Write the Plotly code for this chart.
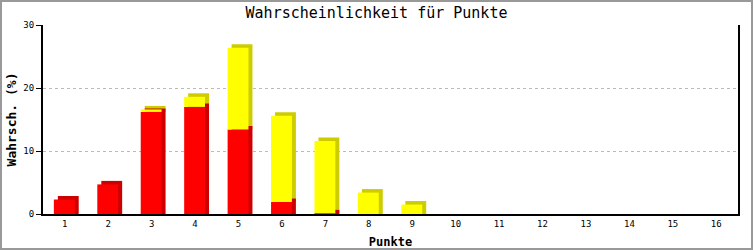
import plotly.graph_objects as go

categories = [str(i) for i in range(1, 17)]
red_values = [2.3, 4.7, 16.2, 17.0, 13.4, 1.9, 0.1, 0, 0, 0, 0, 0, 0, 0, 0, 0]
yellow_values = [0, 0, 0.4, 1.6, 13.0, 13.7, 11.5, 3.4, 1.5, 0, 0, 0, 0, 0, 0, 0]
y_ticks = [0, 10, 20, 30]

W, H = 753, 250
L, R, T, B = 43, 15, 25, 36
pw, ph = W - L - R, H - T - B
ymax = 30
dx = 4 / (pw / len(categories))   # 3D depth in category units
dy = 3.5 / (ph / ymax)             # 3D depth in value units
bw = 0.48
off = -0.25

xs = list(range(len(categories)))
red_base = [0] * len(xs)
fig = go.Figure()

def shadow(vals, bases, dark):
    sv = [v + dy if v > 0 else None for v in vals]
    fig.add_bar(x=xs, y=sv, base=bases, width=bw, offset=off + dx,
                marker=dict(color=dark, line=dict(width=0)), hoverinfo="skip", showlegend=False)

def front(vals, bases, color):
    sv = [v if v > 0 else None for v in vals]
    fig.add_bar(x=xs, y=sv, base=bases, width=bw, offset=off,
                marker=dict(color=color, line=dict(width=0)), showlegend=False)

shadow(yellow_values, red_values, "#CCCC00")
shadow(red_values, red_base, "#CC0000")
front(red_values, red_base, "#FF0000")
front(yellow_values, red_values, "#FFFF00")

fig.update_layout(
    width=W, height=H, barmode="overlay",
    margin=dict(l=L, r=R, t=T, b=B, pad=0),
    paper_bgcolor="white", plot_bgcolor="white",
    font=dict(family="DejaVu Sans Mono", color="black", size=9),
    title=dict(text="Wahrscheinlichkeit für Punkte", x=0.5, xanchor="center",
               y=1 - 13 / H, yanchor="middle",
               font=dict(family="DejaVu Sans Mono", size=15, color="black")),
    xaxis=dict(range=[-0.5, len(categories) - 0.5], tickmode="array", tickvals=xs,
               ticktext=categories, showgrid=False, zeroline=False, automargin=False,
               showline=True, linecolor="black", linewidth=2, ticks="",
               tickfont=dict(size=9),
               title=dict(text="<b>Punkte</b>", standoff=10, font=dict(size=12))),
    yaxis=dict(range=[0, ymax], tickvals=y_ticks, showgrid=True, gridcolor="#BBBBBB",
               griddash="dot", gridwidth=1, zeroline=False, automargin=False,
               showline=True, linecolor="black", linewidth=2, mirror=True,
               ticks="outside", ticklen=5, tickcolor="black", tickwidth=1,
               tickfont=dict(size=9),
               title=dict(text="<b>Wahrsch. (%)</b>", standoff=4, font=dict(size=13))),
)

fig.add_shape(type="rect", xref="paper", yref="paper",
              x0=-(L - 1) / pw, x1=(W - 1 - L) / pw,
              y0=-(B - 1) / ph, y1=(ph + T - 1) / ph,
              line=dict(color="#999999", width=2), layer="above")

fig.write_html("out.html")
